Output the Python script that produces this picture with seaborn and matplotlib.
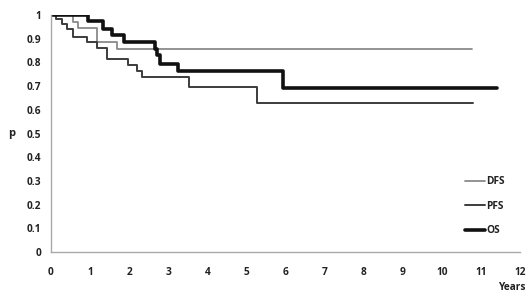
import numpy as np
import pandas as pd
import matplotlib
matplotlib.use("Agg")
import matplotlib.pyplot as plt
import seaborn as sns

# Data
dfs_t = [0.0, 0.57, 0.70, 1.17, 1.68, 10.78]
dfs_s = [1.0, 0.972, 0.944, 0.888, 0.857, 0.857]

pfs_t = [0.0, 0.12, 0.27, 0.42, 0.56, 0.91, 1.17, 1.43, 1.98, 2.20, 2.32, 3.52, 5.27, 10.80]
pfs_s = [1.0, 0.983, 0.963, 0.94, 0.908, 0.885, 0.86, 0.815, 0.79, 0.765, 0.738, 0.695, 0.628, 0.628]

os_t = [0.0, 0.94, 1.34, 1.57, 1.86, 2.66, 2.72, 2.80, 3.26, 5.93, 11.40]
os_s = [1.0, 0.975, 0.942, 0.917, 0.887, 0.858, 0.83, 0.793, 0.763, 0.69, 0.69]

series = ["DFS", "PFS", "OS"]
x_ticks = list(range(0, 13))
y_ticks = [0, 0.1, 0.2, 0.3, 0.4, 0.5, 0.6, 0.7, 0.8, 0.9, 1]
y_labels = ["0", "0.1", "0.2", "0.3", "0.4", "0.5", "0.6", "0.7", "0.8", "0.9", "1"]

frames = []
for name, t, s in [("DFS", dfs_t, dfs_s), ("PFS", pfs_t, pfs_s), ("OS", os_t, os_s)]:
    frames.append(pd.DataFrame({"Years": t, "p": s, "curve": name}))
df = pd.concat(frames, ignore_index=True)

sns.set_style("white")
plt.rcParams['font.family'] = ['Open Sans', 'DejaVu Sans']

fig = plt.figure(figsize=(5.31, 2.96), dpi=100)
ax = fig.add_axes([51/531, 1 - 252/296, (520 - 51)/531, (252 - 15)/296])

styles = {"DFS": dict(color="#8a8a8a", lw=1.3),
          "PFS": dict(color="#3c3c3c", lw=1.4),
          "OS": dict(color="#111111", lw=2.6)}

for name in series:
    sub = df[df["curve"] == name]
    sns.lineplot(data=sub, x="Years", y="p", ax=ax, estimator=None,
                 drawstyle="steps-post", color=styles[name]["color"],
                 linewidth=styles[name]["lw"], label=name, sort=False)

ax.set_xlim(0, 12)
ax.set_ylim(0, 1)
ax.set_xticks(x_ticks)
ax.set_xticklabels([str(v) for v in x_ticks], fontsize=7.3, fontweight="bold", color="#222222")
ax.set_yticks(y_ticks)
ax.set_yticklabels(y_labels, fontsize=7.3, fontweight="bold", color="#222222")
ax.tick_params(axis="both", direction="out", length=3, width=0.8, color="#999999", pad=4)
ax.tick_params(axis="x", pad=8)

for sp in ["top", "right"]:
    ax.spines[sp].set_visible(False)
for sp in ["left", "bottom"]:
    ax.spines[sp].set_color("#aaaaaa")
    ax.spines[sp].set_linewidth(1.0)

ax.set_xlabel("")
ax.set_ylabel("")
fig.text(12/531, 1 - 134/296, "p", fontsize=8, fontweight="bold", color="#222222",
         ha="center", va="center")
fig.text(526/531, 1 - 287/296, "Years", fontsize=7.3, fontweight="bold", color="#222222",
         ha="right", va="center")

leg = ax.legend(loc="upper left", bbox_to_anchor=(410/469, 80/237), frameon=False,
                handlelength=2.0, handletextpad=0.1, labelspacing=1.35,
                prop={"size": 7.3, "weight": "bold"}, borderaxespad=0)
for txt in leg.get_texts():
    txt.set_color("#222222")

fig.savefig("out.png", dpi=100)
